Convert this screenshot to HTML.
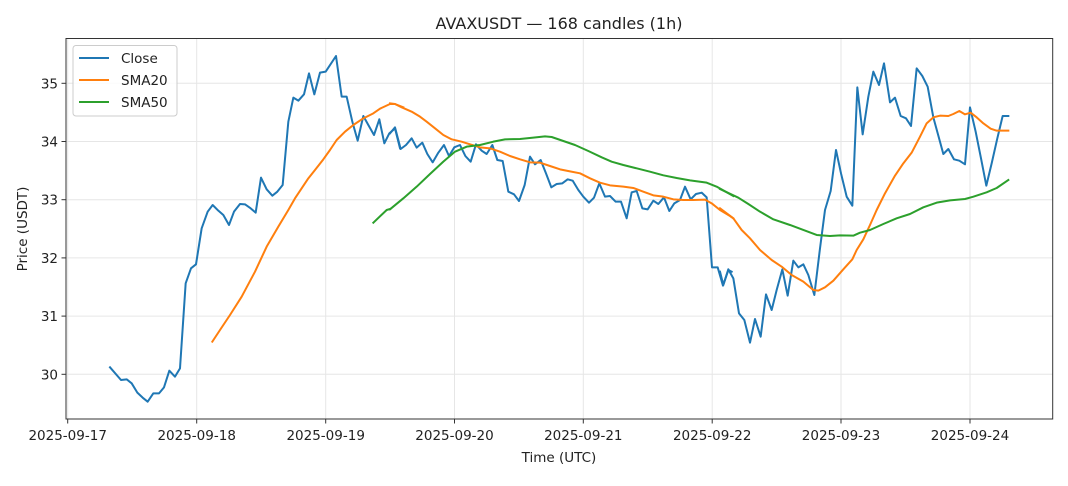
<!DOCTYPE html>
<html><head><meta charset="utf-8"><style>
body{margin:0;background:#fff;width:1068px;height:481px;overflow:hidden}
svg text{font-family:"DejaVu Sans","Liberation Sans",sans-serif;fill:#222}
</style></head><body>
<svg width="1068" height="481" xmlns="http://www.w3.org/2000/svg">
<rect width="1068" height="481" fill="#fff"/>
<g stroke="#e6e6e6" stroke-width="1">
<line x1="67.7" y1="38.5" x2="67.7" y2="419"/><line x1="196.7" y1="38.5" x2="196.7" y2="419"/><line x1="325.7" y1="38.5" x2="325.7" y2="419"/><line x1="454.5" y1="38.5" x2="454.5" y2="419"/><line x1="583.3" y1="38.5" x2="583.3" y2="419"/><line x1="712.2" y1="38.5" x2="712.2" y2="419"/><line x1="841" y1="38.5" x2="841" y2="419"/><line x1="970" y1="38.5" x2="970" y2="419"/>
<line x1="66" y1="83.3" x2="1052.7" y2="83.3"/><line x1="66" y1="141.5" x2="1052.7" y2="141.5"/><line x1="66" y1="199.7" x2="1052.7" y2="199.7"/><line x1="66" y1="257.9" x2="1052.7" y2="257.9"/><line x1="66" y1="316.1" x2="1052.7" y2="316.1"/><line x1="66" y1="374.3" x2="1052.7" y2="374.3"/>
</g>
<g fill="none" stroke-width="6" stroke-linejoin="round" stroke-linecap="square">
<g transform="translate(60,30) scale(0.33333)">
<polyline stroke="#1f77b4" points="150,1012 183,1050 200,1048 215,1060 232,1088 248,1103 263,1115 280,1090 297,1090 312,1072 328,1022 345,1040 360,1015 377,760 393,715 408,703 425,595 443,545 458,525 475,542 490,555 507,585 522,545 540,522 555,523 572,535 587,548 603,443 620,478 637,497 652,485 668,465 685,275 700,203 715,212 732,193 747,130 763,193 780,128 797,125 828,78 845,200 860,200 877,275 893,332 910,258 925,285 942,315 958,268 973,340 988,310 1005,295 1020,355"/>
<polyline stroke="#ff7f0e" points="457,935 480,900 510,855 545,800 585,725 620,650 655,590 685,540 705,505 725,475 745,445 765,420 790,388 810,360 830,330 855,305 880,285 910,265 940,250 960,236 990,222 1005,222 1030,232"/>
<polyline stroke="#2ca02c" points="940,578 980,540 990,537"/>
</g>
<g transform="translate(390,30) scale(0.33333)">
<polyline stroke="#1f77b4" points="0,310 15,292 32,357 48,345 65,325 80,353 97,338 112,372 128,397 145,368 162,345 177,378 193,352 210,345 226,378 242,395 258,343 275,362 290,372 307,345 322,390 338,393 355,485 372,493 387,513 404,465 420,380 435,403 452,390 468,430 484,472 500,462 517,460 533,448 548,452 565,480 580,500 597,518 612,503 628,460 645,500 660,498 677,515 693,515 710,565 725,487 740,483 757,535 773,538 790,512 805,522 822,502 838,543 853,520 870,510 885,470 902,508 918,492 935,488 950,502 966,712 983,712 999,767 1015,720 1025,725"/>
<polyline stroke="#ff7f0e" points="0,220 15,222 35,232 65,245 90,260 110,275 135,295 160,315 185,328 215,335 240,343 270,352 300,355 330,365 360,378 390,388 420,397 450,398 480,408 510,418 540,424 570,430 600,445 630,458 660,466 700,470 730,474 760,485 790,496 820,500 850,508 880,510 910,510 945,509 965,520 990,540 1020,558 1030,565"/>
<polyline stroke="#2ca02c" points="0,538 40,505 80,470 120,432 160,395 195,365 230,350 270,345 310,335 345,328 390,327 430,323 465,319 485,321 520,333 555,345 595,363 635,382 665,395 700,405 740,415 780,425 820,436 860,444 900,451 950,458 980,470 1030,498"/>
</g>
<g transform="translate(720,30) scale(0.33333)">
<polyline stroke="#1f77b4" points="0,725 10,765 25,718 40,745 57,850 73,870 90,938 105,867 122,920 138,793 155,840 170,780 187,718 203,797 220,692 235,712 250,703 265,735 283,795 300,655 315,540 332,483 348,360 363,430 380,500 397,527 412,172 428,313 445,200 460,125 477,165 492,100 510,217 525,203 542,258 558,265 573,288 590,115 607,138 623,170 640,262 655,317 670,372 685,357 702,388 718,392 735,403 750,232 767,305 783,385 799,467 815,400 832,325 848,258 865,258"/>
<polyline stroke="#ff7f0e" points="0,535 40,565 65,600 90,625 120,660 155,690 185,710 215,735 250,755 280,780 295,782 315,772 340,752 370,718 397,688 410,660 430,628 450,585 470,540 495,490 525,437 550,400 575,368 600,320 620,280 640,262 660,257 685,258 700,252 718,243 735,253 752,248 770,262 790,280 812,296 830,302 865,302"/>
<polyline stroke="#2ca02c" points="0,477 55,503 85,522 120,545 160,568 210,585 250,600 290,615 330,618 360,616 400,617 420,608 450,600 490,582 530,565 570,552 610,532 650,518 690,511 735,507 760,500 800,487 830,474 865,450"/>
</g>
</g>
<rect x="66" y="38.5" width="986.7" height="380.5" fill="none" stroke="#333" stroke-width="1"/>
<g stroke="#333" stroke-width="1">
<line x1="67.7" y1="419" x2="67.7" y2="423.5"/><line x1="196.7" y1="419" x2="196.7" y2="423.5"/><line x1="325.7" y1="419" x2="325.7" y2="423.5"/><line x1="454.5" y1="419" x2="454.5" y2="423.5"/><line x1="583.3" y1="419" x2="583.3" y2="423.5"/><line x1="712.2" y1="419" x2="712.2" y2="423.5"/><line x1="841" y1="419" x2="841" y2="423.5"/><line x1="970" y1="419" x2="970" y2="423.5"/>
<line x1="61.5" y1="83.3" x2="66" y2="83.3"/><line x1="61.5" y1="141.5" x2="66" y2="141.5"/><line x1="61.5" y1="199.7" x2="66" y2="199.7"/><line x1="61.5" y1="257.9" x2="66" y2="257.9"/><line x1="61.5" y1="316.1" x2="66" y2="316.1"/><line x1="61.5" y1="374.3" x2="66" y2="374.3"/>
</g>
<g font-size="13.5" text-anchor="middle">
<text x="67.7" y="440">2025-09-17</text><text x="196.7" y="440">2025-09-18</text><text x="325.7" y="440">2025-09-19</text><text x="454.5" y="440">2025-09-20</text><text x="583.3" y="440">2025-09-21</text><text x="712.2" y="440">2025-09-22</text><text x="841" y="440">2025-09-23</text><text x="970" y="440">2025-09-24</text>
</g>
<g font-size="13.5" text-anchor="end">
<text x="58" y="88.3">35</text><text x="58" y="146.5">34</text><text x="58" y="204.7">33</text><text x="58" y="262.9">32</text><text x="58" y="321.1">31</text><text x="58" y="379.3">30</text>
</g>
<text x="559" y="462" font-size="13.5" text-anchor="middle">Time (UTC)</text>
<text transform="translate(27,229) rotate(-90)" font-size="13.5" text-anchor="middle">Price (USDT)</text>
<text x="559" y="29" font-size="16" text-anchor="middle">AVAXUSDT — 168 candles (1h)</text>
<rect x="73" y="45.5" width="104" height="70.5" rx="3" fill="#fff" fill-opacity="0.8" stroke="#ccc"/>
<g stroke-width="2">
<line x1="79" y1="58" x2="109" y2="58" stroke="#1f77b4"/>
<line x1="79" y1="80" x2="109" y2="80" stroke="#ff7f0e"/>
<line x1="79" y1="102" x2="109" y2="102" stroke="#2ca02c"/>
</g>
<g font-size="13.5"><text x="121" y="63">Close</text><text x="121" y="85">SMA20</text><text x="121" y="107">SMA50</text></g>
</svg>
</body></html>
